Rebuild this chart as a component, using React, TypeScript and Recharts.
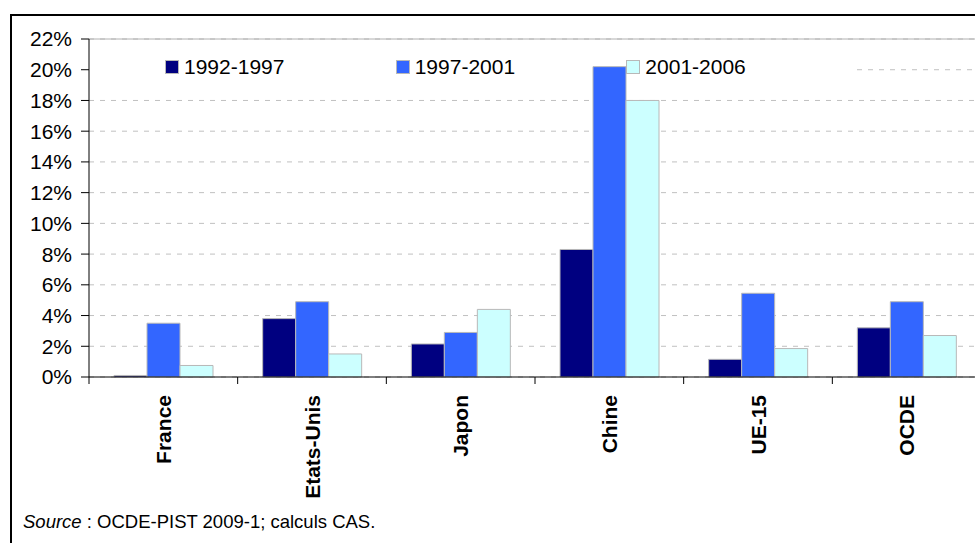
import { BarChart, Bar, XAxis, YAxis, CartesianGrid, Legend, ReferenceLine } from 'recharts'

const categories = ['France', 'Etats-Unis', 'Japon', 'Chine', 'UE-15', 'OCDE']
const p1992_1997 = [0.1, 3.8, 2.15, 8.3, 1.15, 3.2]
const p1997_2001 = [3.5, 4.9, 2.9, 20.2, 5.45, 4.9]
const p2001_2006 = [0.75, 1.5, 4.4, 18.0, 1.85, 2.7]
const yTicks = [0, 2, 4, 6, 8, 10, 12, 14, 16, 18, 20, 22]

const SERIES = [
  { key: 'a', name: '1992-1997', color: '#000080', values: p1992_1997 },
  { key: 'b', name: '1997-2001', color: '#3366FF', values: p1997_2001 },
  { key: 'c', name: '2001-2006', color: '#CCFFFF', values: p2001_2006 },
]

const FONT = '"Liberation Sans", Arial, sans-serif'
const PAGE_W = 975
const PAGE_H = 543
const CHART_W = 1000
const CHART_H = 543
const MARGIN = { top: 39, right: 19, bottom: 0, left: 0 }
const Y_AXIS_W = 89
const X_AXIS_H = 166
const BAND = (CHART_W - MARGIN.left - MARGIN.right - Y_AXIS_W) / categories.length

// the legend sits over the plot; the grid line it crosses starts after it
const LEGEND_LEFT = 97
const LEGEND_W = 760
const LEGEND_VALUE = 20
const PLOT_H = CHART_H - MARGIN.top - MARGIN.bottom - X_AXIS_H
const LEGEND_LINE_Y = MARGIN.top + PLOT_H * (1 - LEGEND_VALUE / 22)

const data = categories.map((name, i) => {
  const row: Record<string, string | number> = { name }
  SERIES.forEach(s => {
    row[s.key] = s.values[i]
  })
  return row
})

function GridLine(props: any) {
  const { x1, x2, y1, y2 } = props
  const hidden = Math.abs(y1 - LEGEND_LINE_Y) < 1
  return (
    <line
      x1={hidden ? LEGEND_LEFT + LEGEND_W : x1}
      x2={x2}
      y1={y1}
      y2={y2}
      stroke="#c0c0c0"
      strokeDasharray="5 6"
      fill="none"
    />
  )
}

function CategoryTick({ x, y, payload }: any) {
  const edge = x - BAND / 2
  return (
    <g>
      <line x1={edge} y1={y} x2={edge} y2={y + 7} stroke="#000" strokeWidth={1} />
      <text
        x={x}
        y={y + 18}
        transform={`rotate(-90, ${x}, ${y + 18})`}
        textAnchor="end"
        dy="0.36em"
        fontFamily={FONT}
        fontSize={21}
        fontWeight="bold"
        fill="#000"
      >
        {payload.value}
      </text>
    </g>
  )
}

function LegendBox() {
  return (
    <div
      style={{
        display: 'flex',
        width: LEGEND_W,
        height: 30,
        alignItems: 'center',
        paddingLeft: 68,
        boxSizing: 'border-box',
        fontFamily: FONT,
        fontSize: 21,
        color: '#000',
      }}
    >
      {SERIES.map(s => (
        <div key={s.key} style={{ width: 251, display: 'flex', alignItems: 'center' }}>
          <span
            style={{
              width: 12,
              height: 12,
              background: s.color,
              border: '1px solid #b8b8b8',
              marginRight: 5,
              display: 'inline-block',
            }}
          />
          <span>{s.name}</span>
        </div>
      ))}
    </div>
  )
}

export default function App() {
  return (
    <div
      style={{
        position: 'fixed',
        left: 0,
        top: 0,
        width: PAGE_W,
        height: PAGE_H,
        overflow: 'hidden',
        background: '#fff',
      }}
    >
      {/* outer frame, open on the right and bottom */}
      <svg
        width={PAGE_W}
        height={PAGE_H}
        style={{ position: 'absolute', left: 0, top: 0, display: 'block' }}
      >
        <path d={`M 11 ${PAGE_H} V 15 H ${PAGE_W}`} stroke="#000" strokeWidth={2} fill="none" />
      </svg>
      <div style={{ position: 'absolute', left: 0, top: 0 }}>
        <BarChart
          width={CHART_W}
          height={CHART_H}
          data={data}
          margin={MARGIN}
          barCategoryGap={25}
          barGap={0}
        >
          <CartesianGrid vertical={false} horizontal={<GridLine />} />
          <ReferenceLine y={22} stroke="#b0b0b0" />
          <XAxis
            dataKey="name"
            height={X_AXIS_H}
            interval={0}
            tickLine={false}
            tickSize={0}
            tickMargin={0}
            axisLine={{ stroke: '#000' }}
            tick={<CategoryTick />}
          />
          <YAxis
            width={Y_AXIS_W}
            domain={[0, 22]}
            ticks={yTicks}
            interval={0}
            tickFormatter={(v: number) => `${v}%`}
            tickSize={8}
            tickMargin={9}
            axisLine={{ stroke: '#000' }}
            tickLine={{ stroke: '#000' }}
            tick={{ fill: '#000', fontSize: 21, fontFamily: FONT }}
          />
          <Legend
            layout="horizontal"
            verticalAlign="middle"
            wrapperStyle={{ top: 52, left: LEGEND_LEFT, width: LEGEND_W }}
            content={<LegendBox />}
          />
          {SERIES.map(s => (
            <Bar
              key={s.key}
              dataKey={s.key}
              name={s.name}
              fill={s.color}
              stroke="#b8b8b8"
              strokeWidth={1}
              isAnimationActive={false}
            />
          ))}
        </BarChart>
      </div>
      <div
        style={{
          position: 'absolute',
          left: 23,
          top: 513,
          fontFamily: FONT,
          fontSize: 18.5,
          lineHeight: '18px',
          color: '#000',
          whiteSpace: 'nowrap',
        }}
      >
        <i>Source</i> : OCDE-PIST 2009-1; calculs CAS.
      </div>
    </div>
  )
}
